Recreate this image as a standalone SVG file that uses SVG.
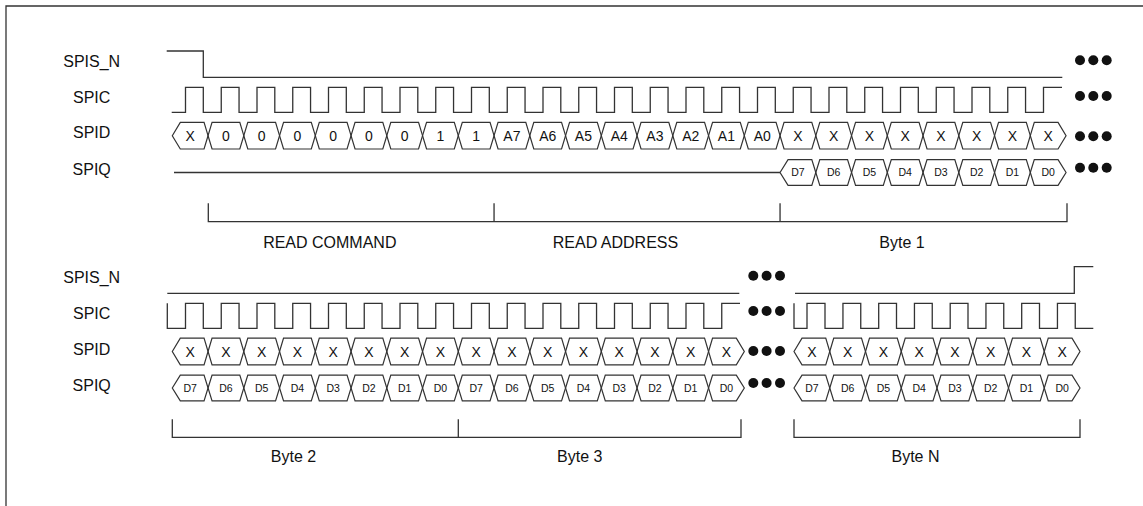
<svg xmlns="http://www.w3.org/2000/svg" width="1143" height="506" viewBox="0 0 1143 506">
<style>
.w{fill:none;stroke:#333;stroke-width:1.3;stroke-linejoin:miter}
.hx{fill:none;stroke:#333;stroke-width:1.2}
.lbl{font-family:"Liberation Sans",Arial,sans-serif;font-size:16px;fill:#111;text-anchor:middle}
.d{font-family:"Liberation Sans",Arial,sans-serif;font-size:14px;fill:#111;text-anchor:middle}
.q{font-family:"Liberation Sans",Arial,sans-serif;font-size:10.5px;fill:#111;text-anchor:middle}
.dot{fill:#111}
</style>
<defs>
<path id="dM" class="hx" d="M0,0 L4,-13.3 H31.75 L35.75,0 L31.75,13.3 H4 Z"/>
<path id="dL" class="hx" d="M0,0 L8,-13.3 H31.75 L35.75,0 L31.75,13.3 H8 Z"/>
<path id="dR" class="hx" d="M0,0 L4,-13.3 H27.75 L35.75,0 L27.75,13.3 H4 Z"/>
<path id="qM" class="hx" d="M0,0 L4,-12.9 H31.75 L35.75,0 L31.75,12.9 H4 Z"/>
<path id="qL" class="hx" d="M0,0 L8,-12.9 H31.75 L35.75,0 L31.75,12.9 H8 Z"/>
<path id="qR" class="hx" d="M0,0 L4,-12.9 H27.75 L35.75,0 L27.75,12.9 H4 Z"/>
<g id="dots3"><circle class="dot" cx="0" cy="0" r="5"/><circle class="dot" cx="13.3" cy="0" r="5"/><circle class="dot" cx="26.7" cy="0" r="5"/></g>
</defs>
<rect width="1143" height="506" fill="#fff"/>
<g id="frame"><path class="w" d="M6,506 V6 H1143"/></g>

<g id="labels-top">
<text class="lbl" x="91.7" y="66.7">SPIS_N</text>
<text class="lbl" x="91.7" y="103.3">SPIC</text>
<text class="lbl" x="91.7" y="138.3">SPID</text>
<text class="lbl" x="91.7" y="174.8">SPIQ</text>
</g>
<g id="labels-bottom">
<text class="lbl" x="91.7" y="283">SPIS_N</text>
<text class="lbl" x="91.7" y="319">SPIC</text>
<text class="lbl" x="91.7" y="354.5">SPID</text>
<text class="lbl" x="91.7" y="390.5">SPIQ</text>
</g>

<g id="top-spis_n"><path class="w" d="M166.7,51 H203.3 V77.3 H1062.3"/></g>
<g id="top-spic"><path class="w" d="M171.7,112.3 H185.5 V87.3 H203.3 V112.3 h17.95 V87.3 h17.8 V112.3 h17.95 V87.3 h17.8 V112.3 h17.95 V87.3 h17.8 V112.3 h17.95 V87.3 h17.8 V112.3 h17.95 V87.3 h17.8 V112.3 h17.95 V87.3 h17.8 V112.3 h17.95 V87.3 h17.8 V112.3 h17.95 V87.3 h17.8 V112.3 h17.95 V87.3 h17.8 V112.3 h17.95 V87.3 h17.8 V112.3 h17.95 V87.3 h17.8 V112.3 h17.95 V87.3 h17.8 V112.3 h17.95 V87.3 h17.8 V112.3 h17.95 V87.3 h17.8 V112.3 h17.95 V87.3 h17.8 V112.3 h17.95 V87.3 h17.8 V112.3 h17.95 V87.3 h17.8 V112.3 h17.95 V87.3 h17.8 V112.3 h17.95 V87.3 h17.8 V112.3 h17.95 V87.3 h17.8 V112.3 h17.95 V87.3 h17.8 V112.3 h17.95 V87.3 h17.8 V112.3 h17.95 V87.3 h17.8 V112.3 h17.95 V87.3 H1062"/></g>
<g id="top-spid">
<use href="#dL" x="172.3" y="135.7"/><use href="#dM" x="208.05" y="135.7"/><use href="#dM" x="243.8" y="135.7"/><use href="#dM" x="279.55" y="135.7"/><use href="#dM" x="315.3" y="135.7"/><use href="#dM" x="351.05" y="135.7"/><use href="#dM" x="386.8" y="135.7"/><use href="#dM" x="422.55" y="135.7"/><use href="#dM" x="458.3" y="135.7"/><use href="#dM" x="494.05" y="135.7"/><use href="#dM" x="529.8" y="135.7"/><use href="#dM" x="565.55" y="135.7"/><use href="#dM" x="601.3" y="135.7"/><use href="#dM" x="637.05" y="135.7"/><use href="#dM" x="672.8" y="135.7"/><use href="#dM" x="708.55" y="135.7"/><use href="#dM" x="744.3" y="135.7"/><use href="#dM" x="780.05" y="135.7"/><use href="#dM" x="815.8" y="135.7"/><use href="#dM" x="851.55" y="135.7"/><use href="#dM" x="887.3" y="135.7"/><use href="#dM" x="923.05" y="135.7"/><use href="#dM" x="958.8" y="135.7"/><use href="#dM" x="994.55" y="135.7"/><use href="#dR" x="1030.3" y="135.7"/>
<text class="d" x="190.2" y="140.7">X</text><text class="d" x="225.9" y="140.7">0</text><text class="d" x="261.7" y="140.7">0</text><text class="d" x="297.4" y="140.7">0</text><text class="d" x="333.2" y="140.7">0</text><text class="d" x="368.9" y="140.7">0</text><text class="d" x="404.7" y="140.7">0</text><text class="d" x="440.4" y="140.7">1</text><text class="d" x="476.2" y="140.7">1</text><text class="d" x="511.9" y="140.7">A7</text><text class="d" x="547.7" y="140.7">A6</text><text class="d" x="583.4" y="140.7">A5</text><text class="d" x="619.2" y="140.7">A4</text><text class="d" x="654.9" y="140.7">A3</text><text class="d" x="690.7" y="140.7">A2</text><text class="d" x="726.4" y="140.7">A1</text><text class="d" x="762.2" y="140.7">A0</text><text class="d" x="797.9" y="140.7">X</text><text class="d" x="833.7" y="140.7">X</text><text class="d" x="869.4" y="140.7">X</text><text class="d" x="905.2" y="140.7">X</text><text class="d" x="940.9" y="140.7">X</text><text class="d" x="976.7" y="140.7">X</text><text class="d" x="1012.4" y="140.7">X</text><text class="d" x="1048.2" y="140.7">X</text>
</g>
<g id="top-spiq">
<path class="w" d="M174,172.5 H780.05"/>
<use href="#qL" x="780.05" y="172.5"/><use href="#qM" x="815.8" y="172.5"/><use href="#qM" x="851.55" y="172.5"/><use href="#qM" x="887.3" y="172.5"/><use href="#qM" x="923.05" y="172.5"/><use href="#qM" x="958.8" y="172.5"/><use href="#qM" x="994.55" y="172.5"/><use href="#qR" x="1030.3" y="172.5"/>
<text class="q" x="797.9" y="176.2">D7</text><text class="q" x="833.7" y="176.2">D6</text><text class="q" x="869.4" y="176.2">D5</text><text class="q" x="905.2" y="176.2">D4</text><text class="q" x="940.9" y="176.2">D3</text><text class="q" x="976.7" y="176.2">D2</text><text class="q" x="1012.4" y="176.2">D1</text><text class="q" x="1048.2" y="176.2">D0</text>
</g>
<g id="top-dots">
<use href="#dots3" x="1080" y="60.3"/><use href="#dots3" x="1080" y="96"/><use href="#dots3" x="1080" y="136.3"/><use href="#dots3" x="1080" y="167.7"/>
</g>
<g id="top-brackets">
<path class="w" d="M208.3,203.3 V221.7 H1067 V203.3 M494.05,203.3 V221.7 M780.05,203.3 V221.7"/>
<text class="lbl" x="329.8" y="248">READ COMMAND</text>
<text class="lbl" x="615.5" y="248">READ ADDRESS</text>
<text class="lbl" x="902" y="248">Byte 1</text>
</g>

<g id="bottom-spis_n"><path class="w" d="M167.3,293.3 H739.3 M795,293.3 H1074.3 V266.7 H1093.3"/></g>
<g id="bottom-spic"><path class="w" d="M167.3,303.3 V328.3 H185.5 V303.3 H203.3 V328.3 h17.95 V303.3 h17.8 V328.3 h17.95 V303.3 h17.8 V328.3 h17.95 V303.3 h17.8 V328.3 h17.95 V303.3 h17.8 V328.3 h17.95 V303.3 h17.8 V328.3 h17.95 V303.3 h17.8 V328.3 h17.95 V303.3 h17.8 V328.3 h17.95 V303.3 h17.8 V328.3 h17.95 V303.3 h17.8 V328.3 h17.95 V303.3 h17.8 V328.3 h17.95 V303.3 h17.8 V328.3 h17.95 V303.3 h17.8 V328.3 h17.95 V303.3 h17.8 V328.3 h17.95 V303.3 h17.8 V328.3 h17.95 V303.3 H740 M794,303.3 V328.3 H807 V303.3 H825 V328.3 h17.95 V303.3 h17.8 V328.3 h17.95 V303.3 h17.8 V328.3 h17.95 V303.3 h17.8 V328.3 h17.95 V303.3 h17.8 V328.3 h17.95 V303.3 h17.8 V328.3 h17.95 V303.3 h17.8 V328.3 h17.95 V303.3 h17.8 V328.3 H1093.3"/></g>
<g id="bottom-spid">
<use href="#dL" x="172.3" y="351.5"/><use href="#dM" x="208.05" y="351.5"/><use href="#dM" x="243.8" y="351.5"/><use href="#dM" x="279.55" y="351.5"/><use href="#dM" x="315.3" y="351.5"/><use href="#dM" x="351.05" y="351.5"/><use href="#dM" x="386.8" y="351.5"/><use href="#dM" x="422.55" y="351.5"/><use href="#dM" x="458.3" y="351.5"/><use href="#dM" x="494.05" y="351.5"/><use href="#dM" x="529.8" y="351.5"/><use href="#dM" x="565.55" y="351.5"/><use href="#dM" x="601.3" y="351.5"/><use href="#dM" x="637.05" y="351.5"/><use href="#dM" x="672.8" y="351.5"/><use href="#dR" x="708.55" y="351.5"/>
<use href="#dL" x="794" y="351.5"/><use href="#dM" x="829.75" y="351.5"/><use href="#dM" x="865.5" y="351.5"/><use href="#dM" x="901.25" y="351.5"/><use href="#dM" x="937" y="351.5"/><use href="#dM" x="972.75" y="351.5"/><use href="#dM" x="1008.5" y="351.5"/><use href="#dR" x="1044.25" y="351.5"/>
<text class="d" x="190.2" y="356.5">X</text><text class="d" x="225.9" y="356.5">X</text><text class="d" x="261.7" y="356.5">X</text><text class="d" x="297.4" y="356.5">X</text><text class="d" x="333.2" y="356.5">X</text><text class="d" x="368.9" y="356.5">X</text><text class="d" x="404.7" y="356.5">X</text><text class="d" x="440.4" y="356.5">X</text><text class="d" x="476.2" y="356.5">X</text><text class="d" x="511.9" y="356.5">X</text><text class="d" x="547.7" y="356.5">X</text><text class="d" x="583.4" y="356.5">X</text><text class="d" x="619.2" y="356.5">X</text><text class="d" x="654.9" y="356.5">X</text><text class="d" x="690.7" y="356.5">X</text><text class="d" x="726.4" y="356.5">X</text>
<text class="d" x="811.9" y="356.5">X</text><text class="d" x="847.6" y="356.5">X</text><text class="d" x="883.4" y="356.5">X</text><text class="d" x="919.1" y="356.5">X</text><text class="d" x="954.9" y="356.5">X</text><text class="d" x="990.6" y="356.5">X</text><text class="d" x="1026.4" y="356.5">X</text><text class="d" x="1062.1" y="356.5">X</text>
</g>
<g id="bottom-spiq">
<use href="#qL" x="172.3" y="388"/><use href="#qM" x="208.05" y="388"/><use href="#qM" x="243.8" y="388"/><use href="#qM" x="279.55" y="388"/><use href="#qM" x="315.3" y="388"/><use href="#qM" x="351.05" y="388"/><use href="#qM" x="386.8" y="388"/><use href="#qM" x="422.55" y="388"/><use href="#qM" x="458.3" y="388"/><use href="#qM" x="494.05" y="388"/><use href="#qM" x="529.8" y="388"/><use href="#qM" x="565.55" y="388"/><use href="#qM" x="601.3" y="388"/><use href="#qM" x="637.05" y="388"/><use href="#qM" x="672.8" y="388"/><use href="#qR" x="708.55" y="388"/>
<use href="#qL" x="794" y="388"/><use href="#qM" x="829.75" y="388"/><use href="#qM" x="865.5" y="388"/><use href="#qM" x="901.25" y="388"/><use href="#qM" x="937" y="388"/><use href="#qM" x="972.75" y="388"/><use href="#qM" x="1008.5" y="388"/><use href="#qR" x="1044.25" y="388"/>
<text class="q" x="190.2" y="391.7">D7</text><text class="q" x="225.9" y="391.7">D6</text><text class="q" x="261.7" y="391.7">D5</text><text class="q" x="297.4" y="391.7">D4</text><text class="q" x="333.2" y="391.7">D3</text><text class="q" x="368.9" y="391.7">D2</text><text class="q" x="404.7" y="391.7">D1</text><text class="q" x="440.4" y="391.7">D0</text><text class="q" x="476.2" y="391.7">D7</text><text class="q" x="511.9" y="391.7">D6</text><text class="q" x="547.7" y="391.7">D5</text><text class="q" x="583.4" y="391.7">D4</text><text class="q" x="619.2" y="391.7">D3</text><text class="q" x="654.9" y="391.7">D2</text><text class="q" x="690.7" y="391.7">D1</text><text class="q" x="726.4" y="391.7">D0</text>
<text class="q" x="811.9" y="391.7">D7</text><text class="q" x="847.6" y="391.7">D6</text><text class="q" x="883.4" y="391.7">D5</text><text class="q" x="919.1" y="391.7">D4</text><text class="q" x="954.9" y="391.7">D3</text><text class="q" x="990.6" y="391.7">D2</text><text class="q" x="1026.4" y="391.7">D1</text><text class="q" x="1062.1" y="391.7">D0</text>
</g>
<g id="bottom-dots">
<use href="#dots3" x="753.3" y="275.7"/><use href="#dots3" x="753.3" y="311"/><use href="#dots3" x="753.3" y="351"/><use href="#dots3" x="753.3" y="383"/>
</g>
<g id="bottom-brackets">
<path class="w" d="M172.3,419.3 V437.3 H741 V419.3 M458.3,419.3 V437.3 M794,419.3 V437.3 H1080 V419.3"/>
<text class="lbl" x="293.5" y="462.3">Byte 2</text>
<text class="lbl" x="579.8" y="462.3">Byte 3</text>
<text class="lbl" x="915.5" y="462.3">Byte N</text>
</g>
</svg>
